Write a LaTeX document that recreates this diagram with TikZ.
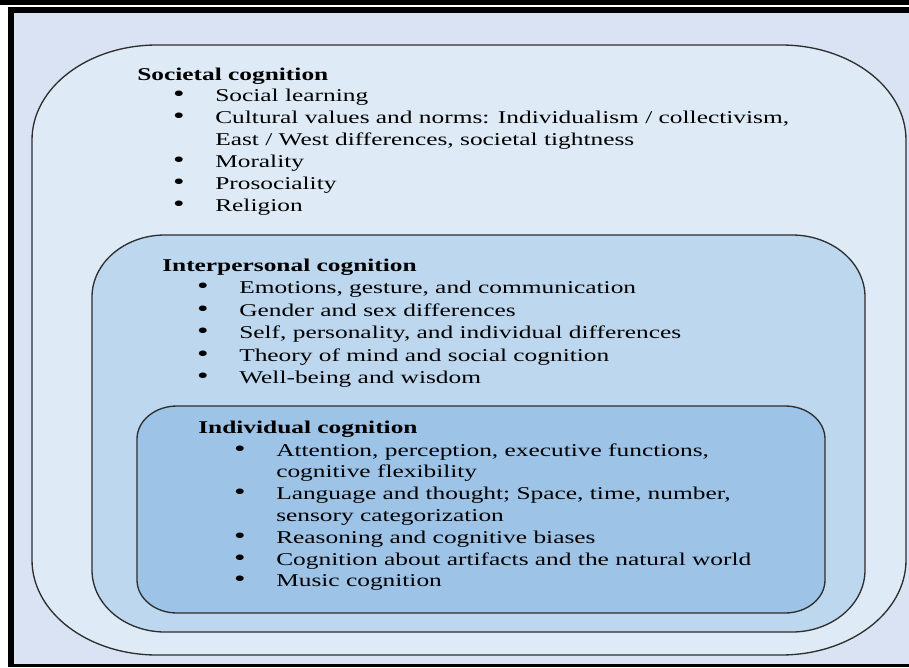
\documentclass[tikz,border=0pt]{standalone}
\usepackage{fontspec}
\setmainfont{Liberation Serif}[FakeStretch=1.41]
\usepackage{xcolor}

\definecolor{frameBg}{HTML}{DAE3F3}
\definecolor{societalFill}{HTML}{DEEBF7}
\definecolor{interFill}{HTML}{BDD7EE}
\definecolor{indivFill}{HTML}{9DC3E6}
\definecolor{boxLine}{HTML}{2E2E2E}
\newcommand{\bul}{\llap{{\fontsize{17.5pt}{16pt}\selectfont\textbullet}\hspace{23pt}}}

\begin{document}
\begin{tikzpicture}[x=0.75pt,y=-0.75pt,
    every node/.style={font=\fontsize{13.5pt}{16pt}\selectfont,text=black,inner sep=0pt,anchor=base west},
    heading/.style={font=\fontsize{13.5pt}{16pt}\selectfont\bfseries},
    boxline/.style={draw=boxLine,line width=1pt}]
    \useasboundingbox (0,0) rectangle (909,667);

    % Rahmen
    \fill[white] (0,0) rectangle (909,667);
    \fill[frameBg] (14,13) rectangle (909,664);
    \fill[black] (0,0) rectangle (909,5);
    \fill[black] (8,7) rectangle (909,13);
    \fill[black] (8,7) rectangle (14,667);
    \fill[black] (8,664) rectangle (909,667);

    % Kaesten
    \foreach \xa/\ya/\xb/\yb/\rx/\ry/\col in {32/45/906/655/125/95/societalFill,92/235/865/632/73/62/interFill,137/406/825/613/40/33/indivFill}
    \filldraw[boxline,fill=\col] (\xa,\ya+\ry)
    arc[start angle=180,end angle=270,x radius=\rx,y radius=\ry] -- (\xb-\rx,\ya)
    arc[start angle=270,end angle=360,x radius=\rx,y radius=\ry] -- (\xb,\yb-\ry)
    arc[start angle=0,end angle=90,x radius=\rx,y radius=\ry] -- (\xa+\rx,\yb)
    arc[start angle=90,end angle=180,x radius=\rx,y radius=\ry] -- cycle;

    % Gesellschaftliche Kognition
    \node[heading] (societal) at (137,80) {Societal cognition};
    \foreach \txt [count=\i] in {{\bul Social learning},{\bul Cultural values and norms: Individualism / collectivism,},{East / West differences, societal tightness},{\bul Morality},{\bul Prosociality},{\bul Religion}}
    \node (societal\i) at (215,80+21.9*\i) {\txt};

    % Interpersonelle Kognition
    \node[heading] (interpersonal) at (162,271) {Interpersonal cognition};
    \foreach \txt [count=\i] in {{\bul Emotions, gesture, and communication},{\bul Gender and sex differences},{\bul Self, personality, and individual differences},{\bul Theory of mind and social cognition},{\bul Well-being and wisdom}}
    \node (interpersonal\i) at (239,271+22.5*\i) {\txt};

    % Individuelle Kognition
    \node[heading] (individual) at (198,433) {Individual cognition};
    \foreach \txt [count=\i] in {{\bul Attention, perception, executive functions,},{cognitive flexibility},{\bul Language and thought; Space, time, number,},{sensory categorization},{\bul Reasoning and cognitive biases},{\bul Cognition about artifacts and the natural world},{\bul Music cognition}}
    \node (individual\i) at (276,434.2+21.8*\i) {\txt};
\end{tikzpicture}
\end{document}
